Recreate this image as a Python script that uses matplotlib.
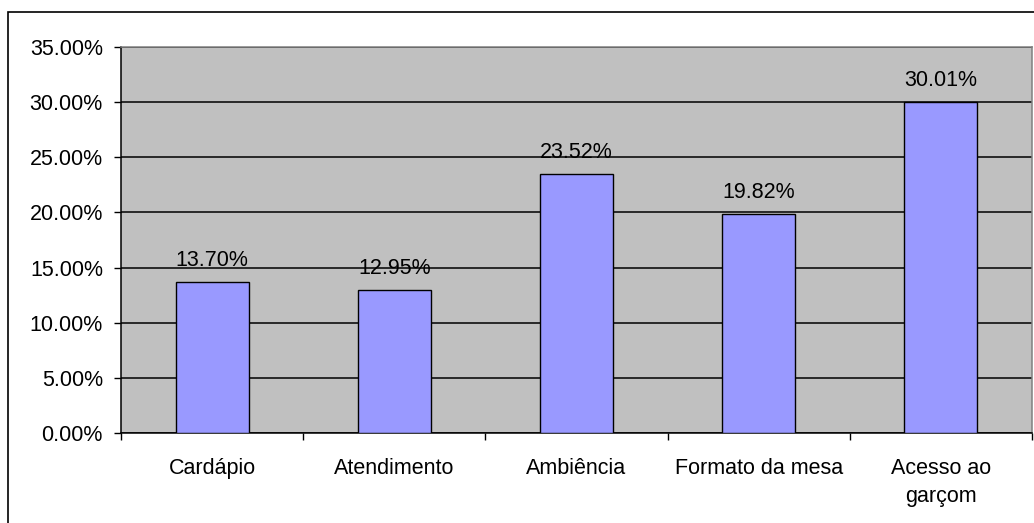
import matplotlib
matplotlib.use("Agg")
import matplotlib.pyplot as plt
from matplotlib.patches import Rectangle
from matplotlib.ticker import FuncFormatter, MultipleLocator, FixedLocator

categories = ["Cardápio", "Atendimento", "Ambiência", "Formato da mesa", "Acesso ao\ngarçom"]
values = [13.70, 12.95, 23.52, 19.82, 30.01]

plt.rcParams["font.family"] = ["Liberation Sans", "DejaVu Sans"]
FS = 15.5

fig = plt.figure(figsize=(10.34, 5.23), dpi=100)
fig.patch.set_facecolor("white")

# outer chart border (runs past the right and bottom edges)
fig.add_artist(Rectangle((8 / 1034, -0.1), 1.2, 1.1 - 12 / 523,
                         transform=fig.transFigure, fill=False,
                         edgecolor="black", linewidth=1.2, zorder=0))

ax = fig.add_axes([121 / 1034, 1 - 433 / 523, (1032 - 121) / 1034, (433 - 47) / 523])
ax.set_facecolor("#C0C0C0")

x = list(range(len(categories)))
ax.set_xlim(-0.5, len(categories) - 0.5)
ax.set_ylim(0, 35)

ax.yaxis.set_major_locator(MultipleLocator(5))
ax.yaxis.set_major_formatter(FuncFormatter(lambda v, p: f"{v:.2f}%"))
ax.grid(axis="y", color="black", linewidth=1.1, zorder=1)
ax.set_axisbelow(True)

bars = ax.bar(x, values, width=0.4, color="#9999FF", edgecolor="black",
              linewidth=1.0, zorder=3)
for xi, v in zip(x, values):
    ax.annotate(f"{v:.2f}%", (xi, v), xytext=(0, 11.5), textcoords="offset points",
                ha="center", va="baseline", fontsize=FS, color="black")

ax.set_xticks(x)
ax.set_xticklabels(categories, fontsize=FS, linespacing=1.45)
ax.tick_params(axis="x", length=0, pad=18)
ax.xaxis.set_minor_locator(FixedLocator([i + 0.5 for i in range(-1, len(categories))]))
ax.tick_params(axis="x", which="minor", length=5, width=1, direction="out", color="black")
ax.tick_params(axis="y", length=5, width=1, direction="out", labelsize=FS, pad=8)

for s in ("left", "bottom"):
    ax.spines[s].set_color("black")
    ax.spines[s].set_linewidth(1.1)
for s in ("top", "right"):
    ax.spines[s].set_color("#808080")
    ax.spines[s].set_linewidth(1.1)

fig.savefig("out.png", dpi=100)
